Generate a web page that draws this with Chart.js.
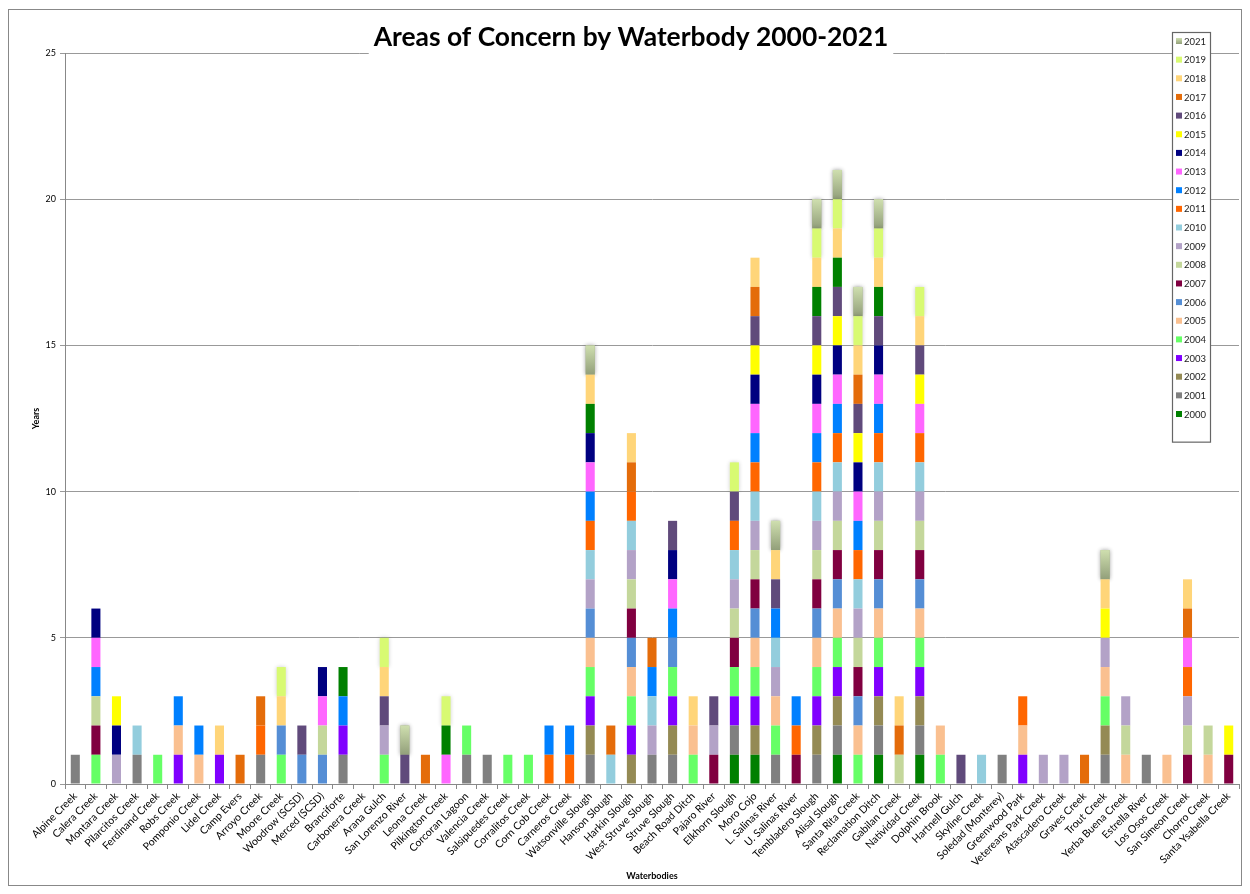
<!DOCTYPE html>
<html lang="en">
<head>
<meta charset="UTF-8">
<title>Areas of Concern by Waterbody 2000-2021</title>
<script src="https://cdn.jsdelivr.net/npm/chart.js"></script>
<style>
    html, body { margin: 0; padding: 0; background: #fff; }
    canvas { display: block; }
</style>
</head>
<body>
<canvas id="chart" width="1250" height="894"></canvas>

<script>
    // waterbodies along the x axis
    const waterbodies = ['Alpine Creek', 'Calera Creek', 'Montara Creek', 'Pilarcitos Creek', 'Ferdinand Creek',
        'Robs Creek', 'Pomponio Creek', 'Lidel Creek', 'Camp Evers', 'Arroyo Creek', 'Moore Creek',
        'Woodrow (SCSD)', 'Merced (SCSD)', 'Branciforte', 'Carbonera Creek', 'Arana Gulch',
        'San Lorenzo River', 'Leona Creek', 'Pilkington Creek', 'Corcoran Lagoon', 'Valencia Creek',
        'Salsipuedes Creek', 'Corralitos Creek', 'Corn Cob Creek', 'Carneros Creek', 'Watsonville Slough',
        'Hanson Slough', 'Harkin Slough', 'West Struve Slough', 'Struve Slough', 'Beach Road Ditch',
        'Pajaro River', 'Elkhorn Slough', 'Moro Cojo', 'L. Salinas River', 'U. Salinas River',
        'Tembladero Slough', 'Alisal Slough', 'Santa Rita Creek', 'Reclamation Ditch', 'Gabilan Creek',
        'Natividad Creek', 'Dolphin Brook', 'Hartnell Gulch', 'Skyline Creek', 'Soledad (Monterey)',
        'Greenwood Park', 'Vetereans Park Creek', 'Atascadero Creek', 'Graves Creek', 'Trout Creek',
        'Yerba Buena Creek', 'Estrella River', 'Los Osos Creek', 'San Simeon Creek', 'Chorro Creek',
        'Santa Ysabella Creek'];

    // waterbodies flagged in each year (each one counts 1 year)
    const y2000 = ['Elkhorn Slough', 'Moro Cojo', 'Alisal Slough', 'Reclamation Ditch', 'Natividad Creek'];
    const y2001 = ['Alpine Creek', 'Pilarcitos Creek', 'Arroyo Creek', 'Branciforte', 'Corcoran Lagoon',
        'Valencia Creek', 'Watsonville Slough', 'West Struve Slough', 'Struve Slough', 'Elkhorn Slough',
        'L. Salinas River', 'Tembladero Slough', 'Alisal Slough', 'Reclamation Ditch', 'Natividad Creek',
        'Soledad (Monterey)', 'Trout Creek', 'Estrella River'];
    const y2002 = ['Watsonville Slough', 'Harkin Slough', 'Struve Slough', 'Moro Cojo', 'Tembladero Slough',
        'Alisal Slough', 'Reclamation Ditch', 'Natividad Creek', 'Trout Creek'];
    const y2003 = ['Robs Creek', 'Lidel Creek', 'Branciforte', 'Watsonville Slough', 'Harkin Slough',
        'Struve Slough', 'Elkhorn Slough', 'Moro Cojo', 'Tembladero Slough', 'Alisal Slough',
        'Reclamation Ditch', 'Natividad Creek', 'Greenwood Park'];
    const y2004 = ['Calera Creek', 'Ferdinand Creek', 'Moore Creek', 'Arana Gulch', 'Corcoran Lagoon',
        'Salsipuedes Creek', 'Corralitos Creek', 'Watsonville Slough', 'Harkin Slough', 'Struve Slough',
        'Beach Road Ditch', 'Elkhorn Slough', 'Moro Cojo', 'L. Salinas River', 'Tembladero Slough',
        'Alisal Slough', 'Santa Rita Creek', 'Reclamation Ditch', 'Natividad Creek', 'Dolphin Brook',
        'Trout Creek'];
    const y2005 = ['Robs Creek', 'Pomponio Creek', 'Watsonville Slough', 'Harkin Slough', 'Beach Road Ditch',
        'Moro Cojo', 'L. Salinas River', 'Tembladero Slough', 'Alisal Slough', 'Santa Rita Creek',
        'Reclamation Ditch', 'Natividad Creek', 'Dolphin Brook', 'Greenwood Park', 'Trout Creek',
        'Yerba Buena Creek', 'Los Osos Creek', 'Chorro Creek'];
    const y2006 = ['Moore Creek', 'Woodrow (SCSD)', 'Merced (SCSD)', 'Watsonville Slough', 'Harkin Slough',
        'Struve Slough', 'Moro Cojo', 'Tembladero Slough', 'Alisal Slough', 'Santa Rita Creek',
        'Reclamation Ditch', 'Natividad Creek'];
    const y2007 = ['Calera Creek', 'Harkin Slough', 'Pajaro River', 'Elkhorn Slough', 'Moro Cojo',
        'U. Salinas River', 'Tembladero Slough', 'Alisal Slough', 'Santa Rita Creek', 'Reclamation Ditch',
        'Natividad Creek', 'San Simeon Creek', 'Santa Ysabella Creek'];
    const y2008 = ['Calera Creek', 'Merced (SCSD)', 'Harkin Slough', 'Elkhorn Slough', 'Moro Cojo',
        'Tembladero Slough', 'Alisal Slough', 'Santa Rita Creek', 'Reclamation Ditch', 'Gabilan Creek',
        'Natividad Creek', 'Yerba Buena Creek', 'San Simeon Creek', 'Chorro Creek'];
    const y2009 = ['Montara Creek', 'Arana Gulch', 'Watsonville Slough', 'Harkin Slough', 'West Struve Slough',
        'Pajaro River', 'Elkhorn Slough', 'Moro Cojo', 'L. Salinas River', 'Tembladero Slough',
        'Alisal Slough', 'Santa Rita Creek', 'Reclamation Ditch', 'Natividad Creek',
        'Vetereans Park Creek', 'Atascadero Creek', 'Trout Creek', 'Yerba Buena Creek', 'San Simeon Creek'];
    const y2010 = ['Pilarcitos Creek', 'Watsonville Slough', 'Hanson Slough', 'Harkin Slough',
        'West Struve Slough', 'Elkhorn Slough', 'Moro Cojo', 'L. Salinas River', 'Tembladero Slough',
        'Alisal Slough', 'Santa Rita Creek', 'Reclamation Ditch', 'Natividad Creek', 'Skyline Creek'];
    const y2011 = ['Arroyo Creek', 'Corn Cob Creek', 'Carneros Creek', 'Watsonville Slough', 'Harkin Slough',
        'Elkhorn Slough', 'Moro Cojo', 'U. Salinas River', 'Tembladero Slough', 'Alisal Slough',
        'Santa Rita Creek', 'Reclamation Ditch', 'Natividad Creek', 'Greenwood Park', 'San Simeon Creek'];
    const y2012 = ['Calera Creek', 'Robs Creek', 'Pomponio Creek', 'Branciforte', 'Corn Cob Creek',
        'Carneros Creek', 'Watsonville Slough', 'West Struve Slough', 'Struve Slough', 'Moro Cojo',
        'L. Salinas River', 'U. Salinas River', 'Tembladero Slough', 'Alisal Slough', 'Santa Rita Creek',
        'Reclamation Ditch'];
    const y2013 = ['Calera Creek', 'Merced (SCSD)', 'Pilkington Creek', 'Watsonville Slough', 'Struve Slough',
        'Moro Cojo', 'Tembladero Slough', 'Alisal Slough', 'Santa Rita Creek', 'Reclamation Ditch',
        'Natividad Creek', 'San Simeon Creek'];
    const y2014 = ['Calera Creek', 'Montara Creek', 'Merced (SCSD)', 'Watsonville Slough', 'Struve Slough',
        'Moro Cojo', 'Tembladero Slough', 'Alisal Slough', 'Santa Rita Creek', 'Reclamation Ditch'];
    const y2015 = ['Montara Creek', 'Moro Cojo', 'Tembladero Slough', 'Alisal Slough', 'Santa Rita Creek',
        'Natividad Creek', 'Trout Creek', 'Santa Ysabella Creek'];
    const y2016 = ['Woodrow (SCSD)', 'Arana Gulch', 'San Lorenzo River', 'Struve Slough', 'Pajaro River',
        'Elkhorn Slough', 'Moro Cojo', 'L. Salinas River', 'Tembladero Slough', 'Alisal Slough',
        'Santa Rita Creek', 'Reclamation Ditch', 'Natividad Creek', 'Hartnell Gulch'];
    const y2017 = ['Camp Evers', 'Arroyo Creek', 'Leona Creek', 'Hanson Slough', 'Harkin Slough',
        'West Struve Slough', 'Moro Cojo', 'Santa Rita Creek', 'Gabilan Creek', 'Graves Creek',
        'San Simeon Creek'];
    // green segments stacked under 2018 that have no legend entry in the original
    const unlisted = ['Branciforte', 'Pilkington Creek', 'Watsonville Slough', 'Tembladero Slough',
        'Alisal Slough', 'Reclamation Ditch'];
    const y2018 = ['Lidel Creek', 'Moore Creek', 'Arana Gulch', 'Watsonville Slough', 'Harkin Slough',
        'Beach Road Ditch', 'Moro Cojo', 'L. Salinas River', 'Tembladero Slough', 'Alisal Slough',
        'Santa Rita Creek', 'Reclamation Ditch', 'Gabilan Creek', 'Natividad Creek', 'Trout Creek',
        'San Simeon Creek'];
    const y2019 = ['Moore Creek', 'Arana Gulch', 'Pilkington Creek', 'Elkhorn Slough', 'Tembladero Slough',
        'Alisal Slough', 'Santa Rita Creek', 'Reclamation Ditch', 'Natividad Creek'];
    const y2021 = ['San Lorenzo River', 'Watsonville Slough', 'L. Salinas River', 'Tembladero Slough',
        'Alisal Slough', 'Santa Rita Creek', 'Reclamation Ditch', 'Trout Creek'];

    const yTicks = [0, 5, 10, 15, 20, 25];

    // stacking order, bottom to top
    const series = [
        ['2000', y2000, '#008000'], ['2001', y2001, '#808080'], ['2002', y2002, '#948A54'],
        ['2003', y2003, '#8000FF'], ['2004', y2004, '#66FF66'], ['2005', y2005, '#FAC090'],
        ['2006', y2006, '#558ED5'], ['2007', y2007, '#800040'], ['2008', y2008, '#C4D79B'],
        ['2009', y2009, '#B3A2C7'], ['2010', y2010, '#93CDDD'], ['2011', y2011, '#FF6600'],
        ['2012', y2012, '#0080FF'], ['2013', y2013, '#FF66FF'], ['2014', y2014, '#000080'],
        ['2015', y2015, '#FFFF00'], ['2016', y2016, '#604A7B'], ['2017', y2017, '#E46C0A'],
        ['', unlisted, '#008000'], ['2018', y2018, '#FFD579'], ['2019', y2019, '#D8FA72'],
        ['2021', y2021, '#B0BE93']
    ];

    const datasets = series.map(([label, list, color]) => ({
        label: label,
        data: waterbodies.map(w => list.includes(w) ? 1 : null),
        backgroundColor: color,
        borderWidth: 0,
        glow: label === '2019' || label === '2021',
        gradient: label === '2021' ? ['#CFDFAF', '#929F7A'] : null
    }));

    const FONT = 'Lato, "DejaVu Sans", sans-serif';
    const titleText = 'Areas of Concern by Waterbody 2000-2021';

    // soft glow on 2019/2021 and the shaded 2021 segments
    const segmentPlugin = {
        id: 'segments',
        beforeDatasetDraw(chart, args) {
            const ds = chart.data.datasets[args.index];
            chart.ctx.save();
            if (ds.glow) {
                chart.ctx.shadowColor = 'rgba(0,0,0,0.2)';
                chart.ctx.shadowBlur = 4;
            }
        },
        afterDatasetDraw(chart, args) {
            const ds = chart.data.datasets[args.index];
            const ctx = chart.ctx;
            if (ds.gradient) {
                args.meta.data.forEach((bar, i) => {
                    if (!ds.data[i]) return;
                    const g = ctx.createLinearGradient(0, bar.y, 0, bar.base);
                    g.addColorStop(0, ds.gradient[0]);
                    g.addColorStop(1, ds.gradient[1]);
                    ctx.fillStyle = g;
                    ctx.fillRect(bar.x - bar.width / 2, bar.y, bar.width, bar.base - bar.y);
                });
            }
            ctx.restore();
        }
    };

    // outer frame, boxed title and the legend box inside the plot
    const framePlugin = {
        id: 'frame',
        afterDraw(chart) {
            const ctx = chart.ctx;
            const area = chart.chartArea;
            ctx.save();

            ctx.strokeStyle = '#888';
            ctx.lineWidth = 1;
            ctx.strokeRect(8.5, 9.5, chart.width - 17, chart.height - 18);

            ctx.font = 'bold 26.4px ' + FONT;
            const tw = ctx.measureText(titleText).width;
            const cx = chart.width / 2 + 6;
            ctx.fillStyle = '#fff';
            ctx.fillRect(cx - tw / 2 - 5, 16, tw + 10, area.top - 14);
            ctx.fillStyle = '#000';
            ctx.textAlign = 'center';
            ctx.textBaseline = 'middle';
            ctx.fillText(titleText, cx, 37);

            const items = chart.data.datasets.filter(d => d.label !== '').reverse();
            const lx = area.right - 67, ly = 32, lw = 38, step = 18.65;
            const lh = step * items.length + 18;
            ctx.fillStyle = '#fff';
            ctx.fillRect(lx, ly, lw, lh);
            ctx.strokeStyle = '#666';
            ctx.lineWidth = 1.2;
            ctx.strokeRect(lx + 0.5, ly + 0.5, lw, lh);
            ctx.font = '9.5px ' + FONT;
            ctx.textAlign = 'left';
            items.forEach((d, i) => {
                const y = ly + 9 + i * step;
                if (d.gradient) {
                    const g = ctx.createLinearGradient(0, y - 3, 0, y + 3);
                    g.addColorStop(0, d.gradient[0]);
                    g.addColorStop(1, d.gradient[1]);
                    ctx.fillStyle = g;
                } else {
                    ctx.fillStyle = d.backgroundColor;
                }
                ctx.fillRect(lx + 4, y - 3, 6, 6);
                ctx.fillStyle = '#222';
                ctx.fillText(d.label, lx + 12, y + 0.5);
            });
            ctx.restore();
        }
    };

    new Chart(document.getElementById('chart'), {
        type: 'bar',
        data: { labels: waterbodies, datasets: datasets },
        plugins: [segmentPlugin, framePlugin],
        options: {
            responsive: false,
            animation: false,
            layout: { padding: { top: 53, left: 10, right: 11, bottom: 10 } },
            datasets: { bar: { categoryPercentage: 1, barPercentage: 0.44 } },
            plugins: {
                legend: { display: false },
                title: { display: false },
                tooltip: { enabled: false }
            },
            scales: {
                x: {
                    stacked: true,
                    grid: { offset: true, drawOnChartArea: false, color: '#888', tickLength: 5 },
                    border: { color: '#888' },
                    ticks: {
                        autoSkip: false, minRotation: 45, maxRotation: 45, padding: 1,
                        color: '#000', font: { family: FONT, size: 10.5 }
                    },
                    title: {
                        display: true, text: 'Waterbodies', color: '#000',
                        font: { family: FONT, size: 9, weight: 'bold' }, padding: { top: 0, bottom: 3 }
                    },
                    afterFit: s => { s.height = 100; }
                },
                y: {
                    stacked: true,
                    min: 0,
                    max: 25,
                    afterBuildTicks: s => { s.ticks = yTicks.map(v => ({ value: v })); },
                    grid: { color: '#999', tickLength: 5 },
                    border: { color: '#888' },
                    ticks: { padding: 4, color: '#000', font: { family: FONT, size: 9 } },
                    title: {
                        display: true, text: 'Years', color: '#000',
                        font: { family: FONT, size: 9, weight: 'bold' }, padding: { top: 21, bottom: 0 }
                    },
                    afterFit: s => { s.width = 55; }
                }
            }
        }
    });
</script>
</body>
</html>
